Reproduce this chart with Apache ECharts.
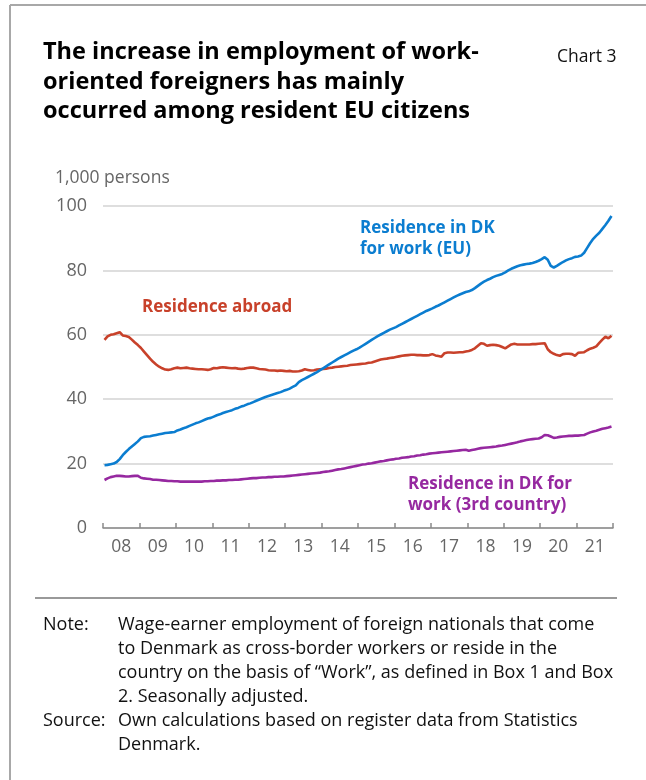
<!DOCTYPE html>
<html>
<head>
<meta charset="utf-8">
<script src="https://cdn.jsdelivr.net/npm/echarts@6/dist/echarts.min.js"></script>
<style>
html,body{margin:0;padding:0;background:#fff;}
#c{width:646px;height:780px;}
</style>
</head>
<body>
<div id="c"></div>
<script>
// Year labels (x axis), 2008-2021
const yearLabels = ['08','09','10','11','12','13','14','15','16','17','18','19','20','21'];
const firstYear = 2008;

// Monthly values, 1,000 persons (Jan 2008 - Dec 2021), 12 per row = 1 year
const euResidence = [
  19.5,19.6,19.8,20.0,20.5,21.4,22.6,23.6,24.5,25.3,26.1,26.9,
  27.9,28.3,28.4,28.5,28.7,28.9,29.1,29.3,29.5,29.6,29.7,29.8,
  30.3,30.6,31.0,31.3,31.7,32.1,32.5,32.8,33.2,33.6,34.0,34.2,
  34.6,35.0,35.3,35.7,36.0,36.3,36.6,37.0,37.3,37.7,38.0,38.4,
  38.7,39.1,39.5,39.9,40.3,40.7,41.0,41.3,41.6,41.9,42.2,42.6,
  42.9,43.3,43.8,44.3,45.3,45.9,46.4,46.9,47.4,47.9,48.4,49.0,
  49.6,50.2,50.8,51.4,52.0,52.6,53.1,53.6,54.1,54.6,55.1,55.5,
  56.0,56.6,57.2,57.8,58.4,59.0,59.6,60.1,60.6,61.1,61.6,62.0,
  62.4,62.9,63.4,63.9,64.4,64.9,65.4,65.9,66.4,66.9,67.4,67.8,
  68.2,68.7,69.1,69.6,70.1,70.6,71.1,71.6,72.1,72.5,72.9,73.3,
  73.5,73.9,74.5,75.2,75.9,76.5,77.0,77.4,77.9,78.3,78.6,78.9,
  79.4,80.0,80.5,80.9,81.3,81.6,81.8,82.0,82.1,82.3,82.6,83.0,
  83.5,84.1,83.3,81.4,80.9,81.4,82.0,82.6,83.1,83.5,83.8,84.2,
  84.3,84.6,85.5,87.0,88.5,89.8,90.8,91.7,92.9,94.1,95.4,96.9
];
const abroadResidence = [
  58.4,59.5,60.0,60.2,60.5,60.8,59.8,59.6,59.3,58.5,57.6,56.8,
  55.9,54.8,53.7,52.6,51.6,50.8,50.1,49.6,49.2,49.1,49.3,49.6,
  49.8,49.6,49.7,49.8,49.6,49.5,49.4,49.3,49.3,49.2,49.1,49.3,
  49.7,49.6,49.8,49.9,49.8,49.7,49.6,49.7,49.5,49.4,49.5,49.7,
  49.8,49.8,49.6,49.4,49.3,49.2,49.0,48.9,48.9,48.8,48.9,48.8,
  48.7,48.8,48.6,48.6,48.7,48.9,49.3,49.1,48.9,49.0,49.2,49.3,
  49.4,49.5,49.7,49.8,50.0,50.1,50.2,50.3,50.4,50.6,50.7,50.8,
  50.9,51.0,51.1,51.3,51.4,51.7,52.0,52.3,52.5,52.6,52.8,52.9,
  53.1,53.3,53.5,53.6,53.7,53.8,53.8,53.7,53.7,53.6,53.6,53.7,
  54.0,53.6,53.4,53.2,54.3,54.5,54.5,54.4,54.5,54.6,54.6,54.8,
  55.0,55.3,55.8,56.6,57.4,57.2,56.6,56.8,56.9,56.8,56.6,56.2,
  55.8,56.4,57.0,57.2,57.0,57.0,57.0,57.0,57.0,57.1,57.1,57.2,
  57.3,57.4,55.5,54.6,54.1,53.7,53.5,54.0,54.1,54.1,54.0,53.5,
  54.4,54.5,54.6,55.2,55.7,56.0,56.4,57.5,58.5,59.4,58.9,59.7
];
const thirdCountryResidence = [
  14.9,15.4,15.8,16.0,16.2,16.2,16.1,16.0,16.0,16.1,16.2,16.2,
  15.6,15.4,15.3,15.2,15.0,15.0,14.9,14.8,14.7,14.6,14.6,14.5,
  14.5,14.4,14.4,14.4,14.4,14.4,14.4,14.4,14.4,14.5,14.5,14.6,
  14.6,14.7,14.7,14.8,14.8,14.9,14.9,15.0,15.0,15.1,15.2,15.3,
  15.4,15.5,15.5,15.6,15.7,15.7,15.8,15.8,15.9,15.9,16.0,16.0,
  16.1,16.2,16.3,16.4,16.5,16.6,16.7,16.8,16.9,17.0,17.1,17.2,
  17.4,17.5,17.6,17.8,18.0,18.2,18.3,18.5,18.7,18.9,19.1,19.3,
  19.5,19.7,19.8,20.0,20.1,20.3,20.5,20.7,20.8,21.0,21.2,21.3,
  21.5,21.6,21.8,21.9,22.0,22.2,22.3,22.5,22.6,22.8,22.9,23.1,
  23.2,23.3,23.4,23.5,23.6,23.7,23.8,23.9,24.0,24.1,24.2,24.3,
  24.0,24.2,24.4,24.6,24.8,24.9,25.0,25.1,25.2,25.3,25.5,25.6,
  25.8,26.0,26.2,26.4,26.6,26.9,27.1,27.3,27.5,27.6,27.7,27.8,
  28.2,28.9,28.8,28.4,28.0,28.1,28.3,28.4,28.5,28.6,28.6,28.7,
  28.7,28.8,28.9,29.3,29.7,30.0,30.2,30.5,30.8,31.0,31.2,31.5
];

// Monthly category axis built from the data length
const months = euResidence.map((_, i) => (firstYear + Math.floor(i / 12)) + '-' + String(i % 12 + 1).padStart(2, '0'));

const FONT = '"Open Sans", "Noto Sans", sans-serif';
const BLUE = '#0b7dd0', RED = '#c8412a', PURPLE = '#9628a0';
const GRID_LEFT = 103, GRID_RIGHT = 33, GRID_TOP = 206, GRID_BOTTOM = 252;

const chart = echarts.init(document.getElementById('c'), null, { renderer: 'canvas' });

const noteStyle = { fill: '#111', fontSize: 18, fontFamily: FONT, lineHeight: 24 };
const option = {
  backgroundColor: '#fff',
  animation: false,
  grid: { left: GRID_LEFT, right: GRID_RIGHT, top: GRID_TOP, bottom: GRID_BOTTOM, containLabel: false },
  xAxis: [
    { type: 'category', data: months, boundaryGap: true, show: false },
    {
      type: 'category', data: yearLabels, boundaryGap: true, position: 'bottom',
      axisLine: { show: true, lineStyle: { color: '#8a8a8a', width: 1.5 } },
      axisTick: { show: true, inside: true, length: 5, lineStyle: { color: '#8a8a8a', width: 1.5 } },
      axisLabel: { color: '#666', fontSize: 17.5, fontFamily: FONT, margin: 10 },
      splitLine: { show: false }
    }
  ],
  yAxis: {
    type: 'value', min: 0, max: 100, interval: 20,
    axisLine: { show: false }, axisTick: { show: false },
    axisLabel: { color: '#666', fontSize: 18, fontFamily: FONT, margin: 16 },
    splitLine: { show: true, lineStyle: { color: '#d3d3d3', width: 1.5 } }
  },
  series: [
    { name: 'Residence abroad', type: 'line', xAxisIndex: 0, data: abroadResidence, symbol: 'none', lineStyle: { color: RED, width: 2.6 }, z: 3 },
    { name: 'Residence in DK for work (3rd country)', type: 'line', xAxisIndex: 0, data: thirdCountryResidence, symbol: 'none', lineStyle: { color: PURPLE, width: 2.6 }, z: 3 },
    { name: 'Residence in DK for work (EU)', type: 'line', xAxisIndex: 0, data: euResidence, symbol: 'none', lineStyle: { color: BLUE, width: 2.6 }, z: 4 }
  ],
  graphic: [
    // frame
    { type: 'line', shape: { x1: 10, y1: 5, x2: 646, y2: 5 }, style: { stroke: '#a8a8a8', lineWidth: 2 } },
    { type: 'line', shape: { x1: 10, y1: 5, x2: 10, y2: 780 }, style: { stroke: '#a8a8a8', lineWidth: 2 } },
    // title
    { type: 'text', left: 43, top: 38, style: { text: 'The increase in employment of work-\noriented foreigners has mainly\noccurred among resident EU citizens', fill: '#000', fontSize: 23.5, fontWeight: 'bold', fontFamily: FONT, lineHeight: 29.5 } },
    { type: 'text', left: 557, top: 47, style: { text: 'Chart 3', fill: '#111', fontSize: 17.5, fontFamily: FONT, lineHeight: 20 } },
    { type: 'text', left: 55, top: 168, style: { text: '1,000 persons', fill: '#666', fontSize: 17.5, fontFamily: FONT, lineHeight: 20 } },
    // series labels
    { type: 'text', left: 360, top: 217.5, style: { text: 'Residence in DK\nfor work (EU)', fill: BLUE, fontSize: 17, fontWeight: 'bold', fontFamily: FONT, lineHeight: 21 } },
    { type: 'text', left: 142, top: 296.5, style: { text: 'Residence abroad', fill: RED, fontSize: 17, fontWeight: 'bold', fontFamily: FONT, lineHeight: 21 } },
    { type: 'text', left: 408, top: 473.5, style: { text: 'Residence in DK for\nwork (3rd country)', fill: PURPLE, fontSize: 17, fontWeight: 'bold', fontFamily: FONT, lineHeight: 21 } },
    // separator
    { type: 'line', shape: { x1: 35, y1: 598, x2: 617, y2: 598 }, style: { stroke: '#999', lineWidth: 2 } },
    // note & source
    { type: 'text', left: 43, top: 613, style: Object.assign({ text: 'Note:' }, noteStyle) },
    { type: 'text', left: 118, top: 613, style: Object.assign({ text: 'Wage-earner employment of foreign nationals that come\nto Denmark as cross-border workers or reside in the\ncountry on the basis of \u201cWork\u201d, as defined in Box 1 and Box\n2. Seasonally adjusted.' }, noteStyle) },
    { type: 'text', left: 43, top: 709, style: Object.assign({ text: 'Source:' }, noteStyle) },
    { type: 'text', left: 118, top: 709, style: Object.assign({ text: 'Own calculations based on register data from Statistics\nDenmark.' }, noteStyle) }
  ]
};
chart.setOption(option);
</script>
</body>
</html>
